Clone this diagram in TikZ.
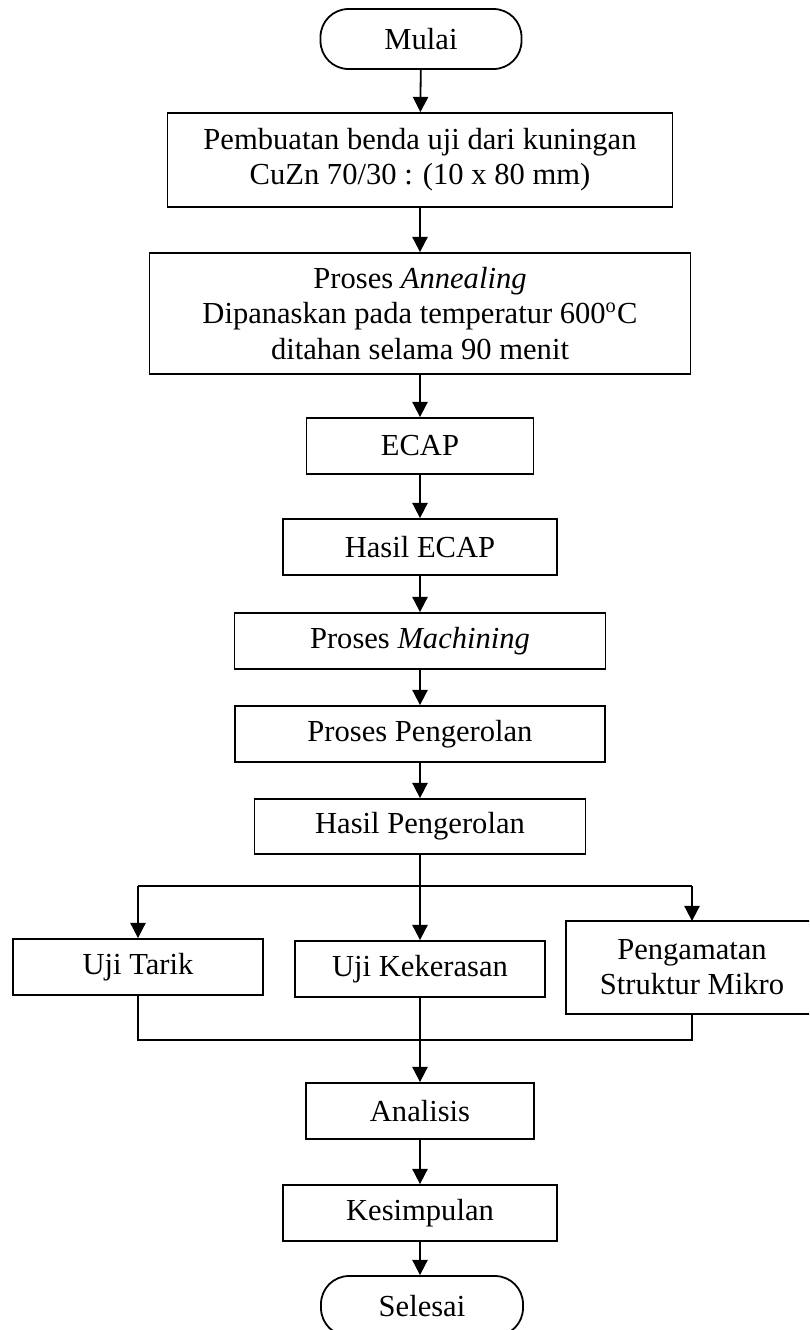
\documentclass[tikz,border=0pt]{standalone}
\usepackage{fontspec}
\setmainfont{Liberation Serif}
\usetikzlibrary{arrows.meta}
\newdimen\pxu
\pxu=0.3925pt
\begin{document}
\begin{tikzpicture}[x=0.3925pt,y=-0.3925pt,
  every node/.style={font=\fontsize{12}{13.8}\selectfont},
  box/.style={draw, line width=0.7pt, rectangle, align=center, inner sep=0pt},
  term/.style={box, rounded corners=28*\pxu},
  arr/.style={line width=0.7pt, -{Triangle[width=6pt,length=6pt]}},
  ln/.style={line width=0.7pt}]
\clip (0,0) rectangle (809,1330);
\fill[white] (0,0) rectangle (809,1330);
\node[term, minimum width=201*\pxu, minimum height=60*\pxu] (mulai) at (421,39) {Mulai};
\node[box, minimum width=505*\pxu, minimum height=94*\pxu] (buat) at (420,160) {Pembuatan benda uji dari kuningan\\CuZn 70/30 : (10 x 80 mm)};
\node[box, minimum width=541*\pxu, minimum height=121*\pxu] (anneal) at (420,313.5) {Proses \textit{Annealing}\\Dipanaskan pada temperatur 600\textsuperscript{o}C\\ditahan selama 90 menit};
\node[box, minimum width=227*\pxu, minimum height=56*\pxu] (ecap) at (420,446) {ECAP};
\node[box, minimum width=274*\pxu, minimum height=56*\pxu] (hecap) at (420,547) {Hasil ECAP};
\node[box, minimum width=371*\pxu, minimum height=56*\pxu] (mach) at (420,641) {Proses \textit{Machining}};
\node[box, minimum width=370*\pxu, minimum height=56*\pxu] (peng) at (420,734) {Proses Pengerolan};
\node[box, minimum width=331*\pxu, minimum height=55*\pxu] (hpeng) at (420,826.5) {Hasil Pengerolan};
\node[box, minimum width=250*\pxu, minimum height=56*\pxu] (tarik) at (138,967) {Uji Tarik};
\node[box, minimum width=250*\pxu, minimum height=56*\pxu] (keras) at (420,969) {Uji Kekerasan};
\node[box, draw=none, minimum width=250*\pxu, minimum height=91*\pxu] (mikro) at (692,967.5) {Pengamatan\\Struktur Mikro};
\draw[ln] (mikro.north west) rectangle ([xshift=120*\pxu]mikro.south east);
\node[box, minimum width=228*\pxu, minimum height=56*\pxu] (anal) at (420,1111) {Analisis};
\node[box, minimum width=274*\pxu, minimum height=56*\pxu] (kes) at (420,1213) {Kesimpulan};
\node[term, minimum width=202*\pxu, minimum height=60*\pxu] (sel) at (422,1306) {Selesai};
\coordinate (split) at (420,886);
\coordinate (join) at (420,1040);
\draw[arr] (mulai) -- (buat);
\draw[arr] (buat) -- (anneal);
\draw[arr] (anneal) -- (ecap);
\draw[arr] (ecap) -- (hecap);
\draw[arr] (hecap) -- (mach);
\draw[arr] (mach) -- (peng);
\draw[arr] (peng) -- (hpeng);
\draw[ln] (hpeng.south) -- (split);
\draw[ln] (tarik.north |- split) -- (mikro.north |- split);
\draw[arr] (tarik.north |- split) -- (tarik.north);
\draw[arr] (split) -- (keras.north);
\draw[arr] (mikro.north |- split) -- (mikro.north);
\draw[ln] (tarik.south) -- (tarik.south |- join) -- (mikro.south |- join) -- (mikro.south);
\draw[arr] (keras.south) -- (anal.north);
\draw[arr] (anal) -- (kes);
\draw[arr] (kes.south) -- (kes.south |- sel.north);
\end{tikzpicture}
\end{document}
